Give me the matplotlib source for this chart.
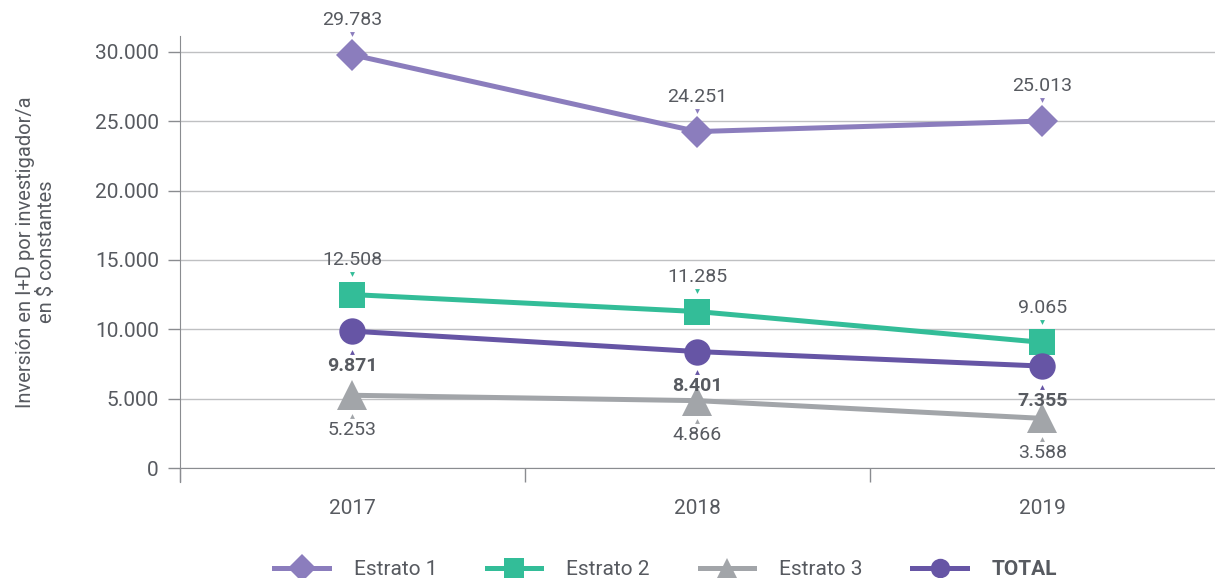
import matplotlib
matplotlib.use('Agg')
import matplotlib.pyplot as plt
from matplotlib.transforms import offset_copy
from matplotlib.lines import Line2D
from matplotlib.ticker import FuncFormatter, FixedLocator

plt.rcParams['font.family'] = ['Roboto', 'DejaVu Sans']

years = ['2017', '2018', '2019']
estrato1 = [29783, 24251, 25013]
estrato2 = [12508, 11285, 9065]
estrato3 = [5253, 4866, 3588]
total = [9871, 8401, 7355]

series = [
    ('Estrato 1', estrato1, '#8b7dbd', 'D', 'above'),
    ('Estrato 2', estrato2, '#33bd98', 's', 'above'),
    ('Estrato 3', estrato3, '#a2a5a9', '^', 'below'),
    ('TOTAL', total, '#6655a5', 'o', 'below'),
]
txt = '#575a60'

def fmt(v):
    return f'{v:,.0f}'.replace(',', '.')

fig = plt.figure(figsize=(12.15, 5.78), dpi=100)
ax = fig.add_axes([0.148, 0.19, 0.852, 0.748])

x = list(range(len(years)))
msize = {'D': 16, 's': 19, '^': 21, 'o': 19}
for name, vals, col, mk, pos in series:
    ax.plot(x, vals, color=col, lw=3.6, marker=mk, markersize=msize[mk],
            markeredgewidth=0, zorder=3, clip_on=False)
    bold = 'bold' if name == 'TOTAL' else 'normal'
    for xi, v in zip(x, vals):
        sign = 1 if pos == 'above' else -1
        ax.annotate(fmt(v), (xi, v), xytext=(0, 25 * sign), textcoords='offset points',
                    ha='center', va='center', fontsize=14, color=txt, fontweight=bold)
        tr = offset_copy(ax.transData, fig=fig, x=0, y=15 * sign, units='points')
        ax.plot([xi], [v], marker='v' if sign > 0 else '^', markersize=3.5, color=col,
                transform=tr, markeredgewidth=0, clip_on=False)

ax.set_xlim(-0.5, 2.5)
ax.set_ylim(0, 31150)
ax.set_yticks(range(0, 30001, 5000))
ax.yaxis.set_major_formatter(FuncFormatter(lambda v, p: fmt(v)))
ax.grid(axis='y', color='#bfc0c2', lw=1)
ax.set_axisbelow(True)

ax.xaxis.set_major_locator(FixedLocator([-0.5, 0.5, 1.5]))
ax.xaxis.set_minor_locator(FixedLocator(x))
ax.set_xticklabels([])
ax.set_xticklabels(years, minor=True)
ax.tick_params(axis='x', which='major', length=10, color='#8a8c90', width=1)
ax.tick_params(axis='x', which='minor', length=0, pad=22, labelsize=15, labelcolor=txt)
ax.tick_params(axis='y', length=9, color='#8a8c90', width=1, labelsize=15,
               labelcolor=txt, pad=6)

for s in ['top', 'right']:
    ax.spines[s].set_visible(False)
ax.spines['left'].set_color('#8a8c90')
ax.spines['bottom'].set_color('#8a8c90')
ax.spines['left'].set_bounds(-1000, 31150)

ax.set_ylabel('Inversión en I+D por investigador/a\nen $ constantes', fontsize=14.5,
              color=txt, labelpad=28, linespacing=1.15)

handles = [Line2D([0], [0], color=c, lw=3.6, marker=m, markersize=14, markeredgewidth=0)
           for _, _, c, m, _ in series]
leg = fig.legend(handles, [s[0] for s in series], loc='lower center', ncol=4,
                 bbox_to_anchor=(0.548, -0.035), frameon=False, fontsize=15,
                 handlelength=2.6, columnspacing=2.4, handletextpad=1.2)
for t in leg.get_texts():
    t.set_color(txt)
leg.get_texts()[-1].set_fontweight('bold')

fig.savefig('out.png', dpi=100)
